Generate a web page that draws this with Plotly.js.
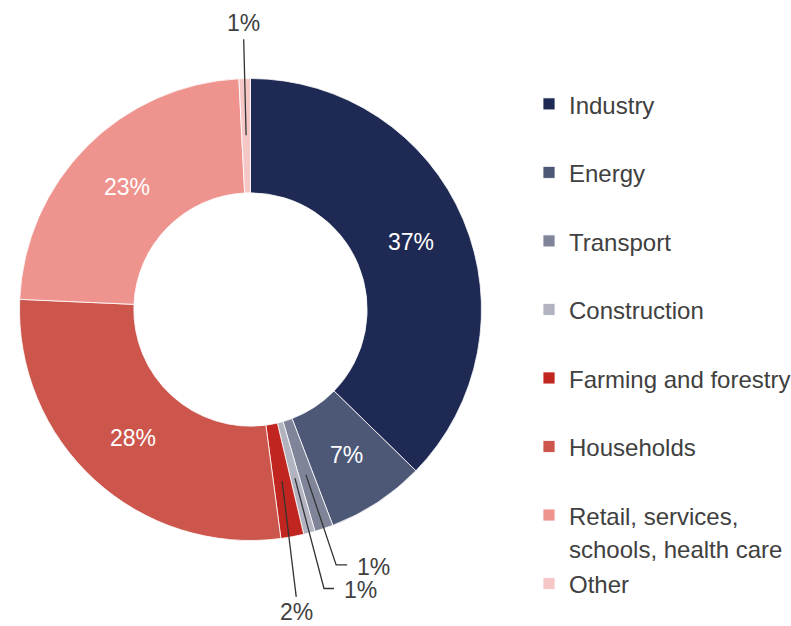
<!DOCTYPE html>
<html><head><meta charset="utf-8">
<script src="https://cdn.plot.ly/plotly-3.0.1.min.js"></script>
<style>html,body{margin:0;padding:0;background:#fff}#chart{width:791px;height:626px}</style>
</head><body><div id="chart"></div>
<script>
// ---- data ----
const categories = ['Industry', 'Energy', 'Transport', 'Construction', 'Farming and forestry', 'Households', 'Retail, services,<br>schools, health care', 'Other'];
const shares = [37.3, 6.9, 1.3, 0.8, 1.6, 27.8, 23.5, 0.8];
const shareLabels = ['37%', '7%', '1%', '1%', '2%', '28%', '23%', '1%'];
const sliceColors = ['#1f2a54', '#4d5877', '#7f8499', '#b1b3c1', '#c1251f', '#cc554c', '#ee938e', '#f5c7c6'];
const labelOutside = [false, false, true, true, true, false, false, true];

// ---- layout / style settings ----
const W = 791, H = 626;
const FONT = 'Arial, "Liberation Sans", sans-serif';
const TEXT_COLOR = '#404040';
const dom = {x: [0.02465, 0.60872], y: [0.13658, 0.8746]};
const HOLE = 0.505;
// leader line settings per outside slice index: end radius factor, end angle shift (deg), horizontal tail (px), label side
const leaderStyle = {
  2: {r1: 1.166, shift: 0, tail: 11, side: 'right'},
  3: {r1: 1.249, shift: 0, tail: 10, side: 'right'},
  4: {r1: 1.26, shift: 1.4, tail: 0, side: 'below'},
  7: {r1: 1.17, shift: 0, tail: 0, side: 'above'}
};
const ANCHOR_R = 0.755;   // radius (fraction of outer) where labels / leaders sit on the ring

const lastIdx = categories.length - 1;
const legendLabels = categories.map((c, i) => '<span style="font-size:24px">' + c + '</span>' +
  (c.indexOf('<br>') >= 0 || i === lastIdx ? '' : '<br> '));

const trace = {
  type: 'pie',
  labels: legendLabels,
  values: shares,
  sort: false,
  direction: 'clockwise',
  rotation: 0,
  hole: HOLE,
  domain: dom,
  marker: {colors: sliceColors, line: {color: '#ffffff', width: 0.8}},
  textinfo: 'none',
  hoverinfo: 'skip'
};

// geometry of the pie as Plotly lays it out (margins are zero)
const cx = W * (dom.x[0] + dom.x[1]) / 2;
const cy = H * (1 - (dom.y[0] + dom.y[1]) / 2);
const R = Math.min(W * (dom.x[1] - dom.x[0]), H * (dom.y[1] - dom.y[0])) / 2;
const total = shares.reduce((a, b) => a + b, 0);
const px = p => p / W, py = p => 1 - p / H;

const shapes = [], annotations = [];
let cum = 0;
shares.forEach((v, i) => {
  const mid = (cum + v / 2) / total * 2 * Math.PI;
  cum += v;
  const x0 = cx + R * ANCHOR_R * Math.sin(mid), y0 = cy - R * ANCHOR_R * Math.cos(mid);
  if (!labelOutside[i]) {
    annotations.push({xref: 'paper', yref: 'paper', showarrow: false, text: shareLabels[i],
      x: px(x0), y: py(y0), xanchor: 'center', yanchor: 'middle',
      font: {family: FONT, size: 23, color: '#ffffff'}});
    return;
  }
  const ls = leaderStyle[i];
  const endA = mid + ls.shift * Math.PI / 180;
  const x1 = cx + R * ls.r1 * Math.sin(endA), y1 = cy - R * ls.r1 * Math.cos(endA);
  const x2 = x1 + ls.tail, y2 = y1;
  shapes.push({type: 'path', xref: 'paper', yref: 'paper',
    path: `M${px(x0)},${py(y0)} L${px(x1)},${py(y1)} L${px(x2)},${py(y2)}`,
    line: {color: '#333333', width: 1.3}});
  const ann = {xref: 'paper', yref: 'paper', showarrow: false, text: shareLabels[i],
    font: {family: FONT, size: 23, color: TEXT_COLOR}};
  if (ls.side === 'right') { Object.assign(ann, {x: px(x2 + 8), y: py(y2 + 2), xanchor: 'left', yanchor: 'middle'}); }
  else if (ls.side === 'below') { Object.assign(ann, {x: px(x2), y: py(y2 + 15), xanchor: 'center', yanchor: 'middle', height: 20}); }
  else { Object.assign(ann, {x: px(x2), y: py(y2 - 1), xanchor: 'center', yanchor: 'bottom'}); }
  annotations.push(ann);
});

const layout = {
  width: W, height: H,
  margin: {l: 0, r: 0, t: 0, b: 0, autoexpand: false},
  paper_bgcolor: '#ffffff',
  font: {family: FONT, color: TEXT_COLOR},
  showlegend: true,
  legend: {x: 529 / W, xanchor: 'left', y: 1 - 81 / H, yanchor: 'top', valign: 'top',
    font: {family: FONT, size: 25.2, color: TEXT_COLOR}, bgcolor: 'rgba(0,0,0,0)', traceorder: 'normal'},
  shapes: shapes,
  annotations: annotations
};

Plotly.newPlot('chart', [trace], layout, {staticPlot: true, displayModeBar: false});
</script>
</body></html>
